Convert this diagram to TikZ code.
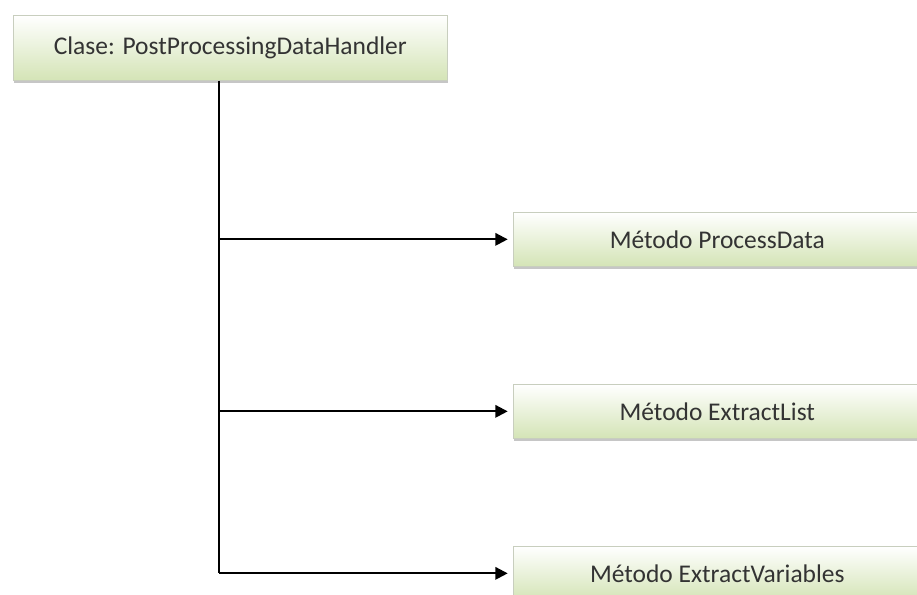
\documentclass[tikz,border=0pt]{standalone}
\usepackage{fontspec}
\setmainfont{Carlito}
\usepackage{tikz}
\usetikzlibrary{calc}
\usetikzlibrary{arrows,arrows.meta,shapes,shadows}
\usetikzlibrary{positioning}
\definecolor{boxgreen}{RGB}{212,228,182}
\definecolor{boxedge}{RGB}{200,206,190}

\begin{document}
\begin{tikzpicture}[x=0.02cm,y=-0.02cm,
    box/.style={draw=boxedge,top color=white,bottom color=boxgreen,
      minimum height=1.08cm,anchor=north west,font=\fontsize{14.5}{16}\selectfont,
      text=black!80,drop shadow={shadow xshift=0.6pt,shadow yshift=-1.4pt,opacity=0.45}},
    link/.style={line width=1.2pt,-{Triangle[length=7pt,width=7pt]},shorten >=3pt}]
      \useasboundingbox (0,0) rectangle (917,595);
      \node[box,minimum width=8.68cm,minimum height=1.3cm] (clase) at (13,15) {Clase: PostProcessingDataHandler};
      \node[box,minimum width=8.16cm] (m1) at (513,212) {Método ProcessData};
      \node[box,minimum width=8.16cm] (m2) at (513,384) {Método ExtractList};
      \node[box,minimum width=8.16cm] (m3) at (513,546) {Método ExtractVariables};
      \coordinate (tr) at (219,0);
      \draw[line width=1.2pt] (clase.south -| tr) -- (m3.west -| tr);
      \draw[link] (m1.west -| tr) -- (m1.west);
      \draw[link] (m2.west -| tr) -- (m2.west);
      \draw[link] (m3.west -| tr) -- (m3.west);
    \end{tikzpicture}
\end{document}
